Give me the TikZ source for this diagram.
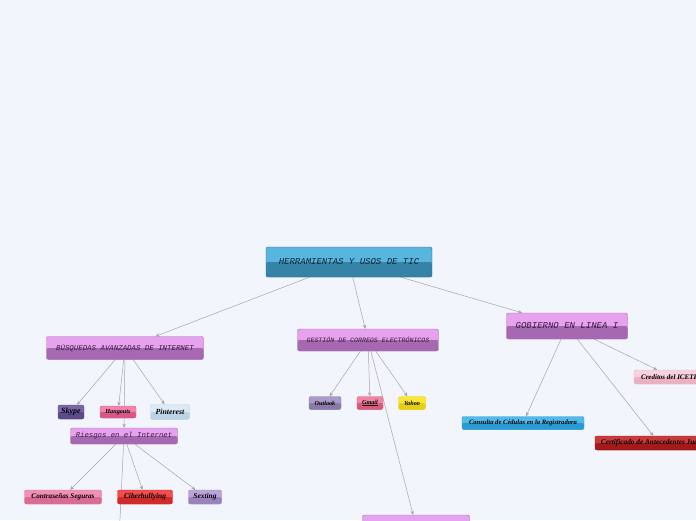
\documentclass[tikz,border=0pt]{standalone}
\usepackage{fontspec}
\setmainfont{Liberation Serif}
\setmonofont{Liberation Mono}
\usetikzlibrary{arrows.meta}

\definecolor{fondo}{HTML}{F3F5FD}
\definecolor{linea}{HTML}{A4A4AC}
\definecolor{azulA}{HTML}{58B6DE}
\definecolor{azulB}{HTML}{3584A8}
\definecolor{azulT}{HTML}{0E2232}
\definecolor{violA}{HTML}{E6A2EE}
\definecolor{violB}{HTML}{A668B0}
\definecolor{violT}{HTML}{361C3E}
\definecolor{skypeA}{HTML}{7866A8}\definecolor{skypeB}{HTML}{5C4A8A}
\definecolor{hangA}{HTML}{F284AC}\definecolor{hangB}{HTML}{D65884}
\definecolor{pintA}{HTML}{DCEAF5}\definecolor{pintB}{HTML}{BCD2E6}
\definecolor{claveA}{HTML}{F290B4}\definecolor{claveB}{HTML}{DA6C94}
\definecolor{ciberA}{HTML}{F24C4C}\definecolor{ciberB}{HTML}{D22A2A}
\definecolor{sextA}{HTML}{BAA4DA}\definecolor{sextB}{HTML}{9A82BA}
\definecolor{outlA}{HTML}{AA9ACA}\definecolor{outlB}{HTML}{8A7AAA}
\definecolor{gmailA}{HTML}{F284A4}\definecolor{gmailB}{HTML}{D65A7C}
\definecolor{yahooA}{HTML}{F8E834}\definecolor{yahooB}{HTML}{E6CE12}
\definecolor{icetexA}{HTML}{F8D2DE}\definecolor{icetexB}{HTML}{E8B2C4}
\definecolor{cedulaA}{HTML}{52BAEA}\definecolor{cedulaB}{HTML}{2A9AD2}
\definecolor{antecA}{HTML}{CA3A3A}\definecolor{antecB}{HTML}{A21A1A}

\pgfdeclarelayer{fondo}
\pgfsetlayers{fondo,main}

\tikzset{
  tema/.style 2 args={rounded corners=2pt, draw=#2, fill=#1, inner sep=0pt,
    path picture={\fill[#2] (path picture bounding box.west) rectangle (path picture bounding box.south east);}},
  sub/.style={tema={#1A}{#1B}, font=\bfseries\itshape},
  edge/.style={draw=linea, line width=0.5pt, -{Stealth[length=4pt,width=3.5pt]}}
}

\begin{document}
\begin{tikzpicture}[x=1pt,y=-1pt]
\useasboundingbox (0,0) rectangle (696,520);
\begin{pgfonlayer}{fondo}
\fill[fondo] (0,0) rectangle (696,520);
\end{pgfonlayer}
\clip (0,0) rectangle (696,520);

% tema central
\node[tema={azulA}{azulB}, draw=azulB!80!black, minimum width=166pt, minimum height=30pt,
  font=\ttfamily\itshape\fontsize{9}{10}\selectfont, text=azulT] (raiz) at (349,262) {HERRAMIENTAS Y USOS DE TIC};

% ramas principales
\node[tema={violA}{violB}, minimum width=157pt, minimum height=23pt,
  font=\ttfamily\itshape\fontsize{7.4}{9}\selectfont, text=violT] (busq) at (125,348) {BÚSQUEDAS AVANZADAS DE INTERNET};
\node[tema={violA}{violB}, minimum width=141pt, minimum height=22pt,
  font=\ttfamily\itshape\fontsize{6.6}{8}\selectfont, text=violT] (correo) at (368,340) {GESTIÓN DE CORREOS ELECTRÓNICOS};
\node[tema={violA}{violB}, minimum width=121pt, minimum height=26pt,
  font=\ttfamily\itshape\fontsize{9}{10}\selectfont, text=violT] (gob) at (567,326) {GOBIERNO EN LINEA I};

% busquedas
\node[sub=skype, minimum width=26pt, minimum height=14pt, font=\bfseries\itshape\fontsize{8}{9}\selectfont] (skype) at (71,412) {Skype};
\node[sub=hang, minimum width=36pt, minimum height=12pt, font=\bfseries\itshape\fontsize{6.2}{7}\selectfont] (hang) at (118,412) {Hangouts};
\node[sub=pint, minimum width=39pt, minimum height=15pt, font=\bfseries\itshape\fontsize{7.8}{8}\selectfont] (pint) at (170,412) {Pinterest};
\node[tema={violA}{violB}, minimum width=107pt, minimum height=16pt,
  font=\ttfamily\itshape\fontsize{7.3}{8}\selectfont, text=violT] (riesgo) at (124,436) {Riesgos en el Internet};
\coordinate (riesgoMas) at (118,560);

% riesgos
\node[sub=clave, minimum width=77pt, minimum height=14pt, font=\bfseries\itshape\fontsize{7.2}{8}\selectfont] (clave) at (63,497) {Contraseñas Seguras};
\node[sub=ciber, minimum width=55pt, minimum height=14pt, font=\bfseries\itshape\fontsize{7.4}{8}\selectfont] (ciber) at (145,497) {Ciberbullying};
\node[sub=sext, minimum width=33pt, minimum height=14pt, font=\bfseries\itshape\fontsize{7.4}{8}\selectfont] (sext) at (205,497) {Sexting};

% correos
\node[sub=outl, minimum width=32pt, minimum height=13pt, font=\bfseries\itshape\fontsize{6.2}{7}\selectfont] (outl) at (325,403) {Outlook};
\node[sub=gmail, minimum width=26pt, minimum height=13pt, font=\bfseries\itshape\fontsize{6.2}{7}\selectfont] (gmail) at (370,403) {\underline{Gmail}};
\node[sub=yahoo, minimum width=27pt, minimum height=13pt, font=\bfseries\itshape\fontsize{6.2}{7}\selectfont] (yahoo) at (412,403) {Yahoo};
\node[tema={violA}{violB}, minimum width=107pt, minimum height=22pt] (correoMas) at (416,526) {};

% gobierno
\node[sub=icetex, minimum width=76pt, minimum height=14pt, font=\bfseries\itshape\fontsize{7}{8}\selectfont] (icetex) at (672,377) {Creditos del ICETEX};
\node[sub=cedula, minimum width=122pt, minimum height=13pt, font=\bfseries\itshape\fontsize{6.6}{7}\selectfont] (cedula) at (523,423) {Consulta de Cédulas en la Registradora};
\node[sub=antec, minimum width=128pt, minimum height=14pt, font=\bfseries\itshape\fontsize{7.3}{8}\selectfont] (antec) at (659,443) {Certificado de Antecedentes Judiciales};

% conectores
\begin{pgfonlayer}{fondo}
\draw[edge] (raiz) -- (busq);
\draw[edge] (raiz) -- (correo);
\draw[edge] (raiz) -- (gob);
\draw[edge] (busq) -- (skype);
\draw[edge] (busq) -- (hang);
\draw[edge] (busq) -- (pint);
\draw[edge] (busq) -- (riesgo);
\draw[edge] (riesgo) -- (clave);
\draw[edge] (riesgo) -- (ciber);
\draw[edge] (riesgo) -- (sext);
\draw[edge] (riesgo) -- (riesgoMas);
\draw[edge] (correo) -- (outl);
\draw[edge] (correo) -- (gmail);
\draw[edge] (correo) -- (yahoo);
\draw[edge] (correo) -- (correoMas);
\draw[edge] (gob) -- (cedula);
\draw[edge] (gob) -- (antec);
\draw[edge] (gob) -- (icetex);
\end{pgfonlayer}
\end{tikzpicture}
\end{document}
